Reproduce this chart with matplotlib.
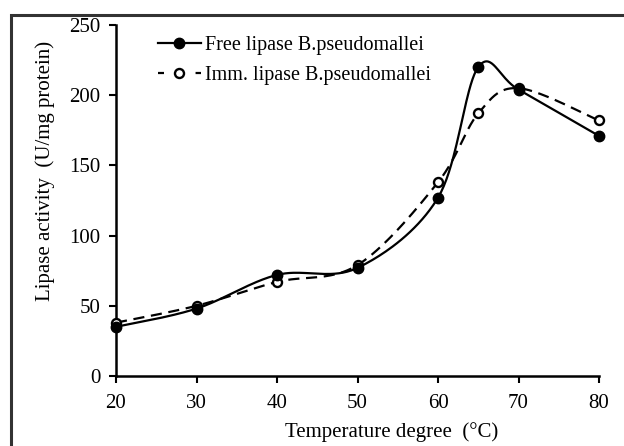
import numpy as np
import matplotlib
matplotlib.use("Agg")
import matplotlib.pyplot as plt
from matplotlib.patches import Rectangle

temps = [20, 30, 40, 50, 60, 65, 70, 80]
free_activity = [35, 48, 72, 77, 127, 220, 204, 171]
imm_activity = [38, 50, 67, 79, 138, 187, 205, 182]
free_label = "Free lipase B.pseudomallei"
imm_label = "Imm. lipase B.pseudomallei"
xticks = [20, 30, 40, 50, 60, 70, 80]
yticks = [0, 50, 100, 150, 200, 250]
xlabel = "Temperature degree  (°C)"
ylabel = "Lipase activity  (U/mg protein)"

plt.rcParams['font.family'] = ['Liberation Serif', 'DejaVu Serif']


def smooth_curve(xs, ys, n=40):
    # Excel-like smoothing: cubic Bezier with Catmull-Rom control points
    x = np.asarray(xs, float)
    y = np.asarray(ys, float)
    P = np.column_stack([x, y])
    out = [P[0]]
    t = np.linspace(0, 1, n)[1:]
    for i in range(len(P) - 1):
        p0 = P[i - 1] if i > 0 else P[i]
        p1 = P[i]
        p2 = P[i + 1]
        p3 = P[i + 2] if i + 2 < len(P) else P[i + 1]
        c1 = p1 + (p2 - p0) / 6.0
        c2 = p2 - (p3 - p1) / 6.0
        tt = t[:, None]
        pts = ((1 - tt) ** 3) * p1 + 3 * ((1 - tt) ** 2) * tt * c1 + 3 * (1 - tt) * tt ** 2 * c2 + tt ** 3 * p2
        out.extend(pts)
    out = np.array(out)
    return out[:, 0], out[:, 1]


fig = plt.figure(figsize=(6.24, 4.46), dpi=100)
W, H = 624, 446
ax = fig.add_axes([116 / W, 1 - 376 / H, (599 - 116) / W, (376 - 25) / H])

# outer chart border
fig.patches.append(Rectangle((11 / W, -0.1), 1.2, 1 - 15 / H + 0.1, transform=fig.transFigure,
                             fill=False, edgecolor='#333333', linewidth=2.2))

fx, fy = smooth_curve(temps, free_activity)
ix, iy = smooth_curve(temps, imm_activity)

ax.plot(fx, fy, color='black', linewidth=1.6, solid_capstyle='butt', zorder=3, clip_on=False)
ax.plot(ix, iy, color='black', linewidth=1.6, linestyle=(0, (5, 3)), zorder=2, clip_on=False)
ax.plot(temps, imm_activity, linestyle='none', marker='o', markersize=6.5,
        markerfacecolor='white', markeredgecolor='black', markeredgewidth=1.7, zorder=4, clip_on=False)
ax.plot(temps, free_activity, linestyle='none', marker='o', markersize=7.5,
        markerfacecolor='black', markeredgecolor='black', zorder=5, clip_on=False)

# legend handles
h1, = ax.plot([], [], color='black', linewidth=1.6, marker='o', markersize=7.5,
              markerfacecolor='black', markeredgecolor='black', label=free_label)
h2, = ax.plot([], [], color='black', linewidth=1.6, linestyle=(0, (2.7, 14.2)), marker='o', markersize=6.5,
              markerfacecolor='white', markeredgecolor='black', markeredgewidth=1.7, label=imm_label)
leg = ax.legend(handles=[h1, h2], loc='upper left', bbox_to_anchor=(0.061, 1.004),
                frameon=False, fontsize=14.5, handlelength=2.15, handletextpad=0.22,
                labelspacing=0.55, borderaxespad=0.2)

ax.set_xlim(20, 80)
ax.set_ylim(0, 250)
ax.set_xticks(xticks)
ax.set_yticks(yticks)
ax.tick_params(axis='both', direction='out', length=5, width=1.5, labelsize=15, colors='black')
ax.tick_params(axis='x', pad=8)
ax.tick_params(axis='y', pad=6)
for side in ['top', 'right']:
    ax.spines[side].set_visible(False)
for side in ['left', 'bottom']:
    ax.spines[side].set_linewidth(1.8)

ax.set_xlabel(xlabel, fontsize=15, labelpad=0)
ax.xaxis.set_label_coords((392 - 116) / (599 - 116), -(432 - 376) / (376 - 25), transform=ax.transAxes)
ax.xaxis.label.set_va('center')
ax.set_ylabel(ylabel, fontsize=15)
ax.yaxis.set_label_coords(-(116 - 45) / (599 - 116), (376 - 171) / (376 - 25), transform=ax.transAxes)
ax.yaxis.label.set_va('center')

fig.savefig('out.png', dpi=100, facecolor='white')
